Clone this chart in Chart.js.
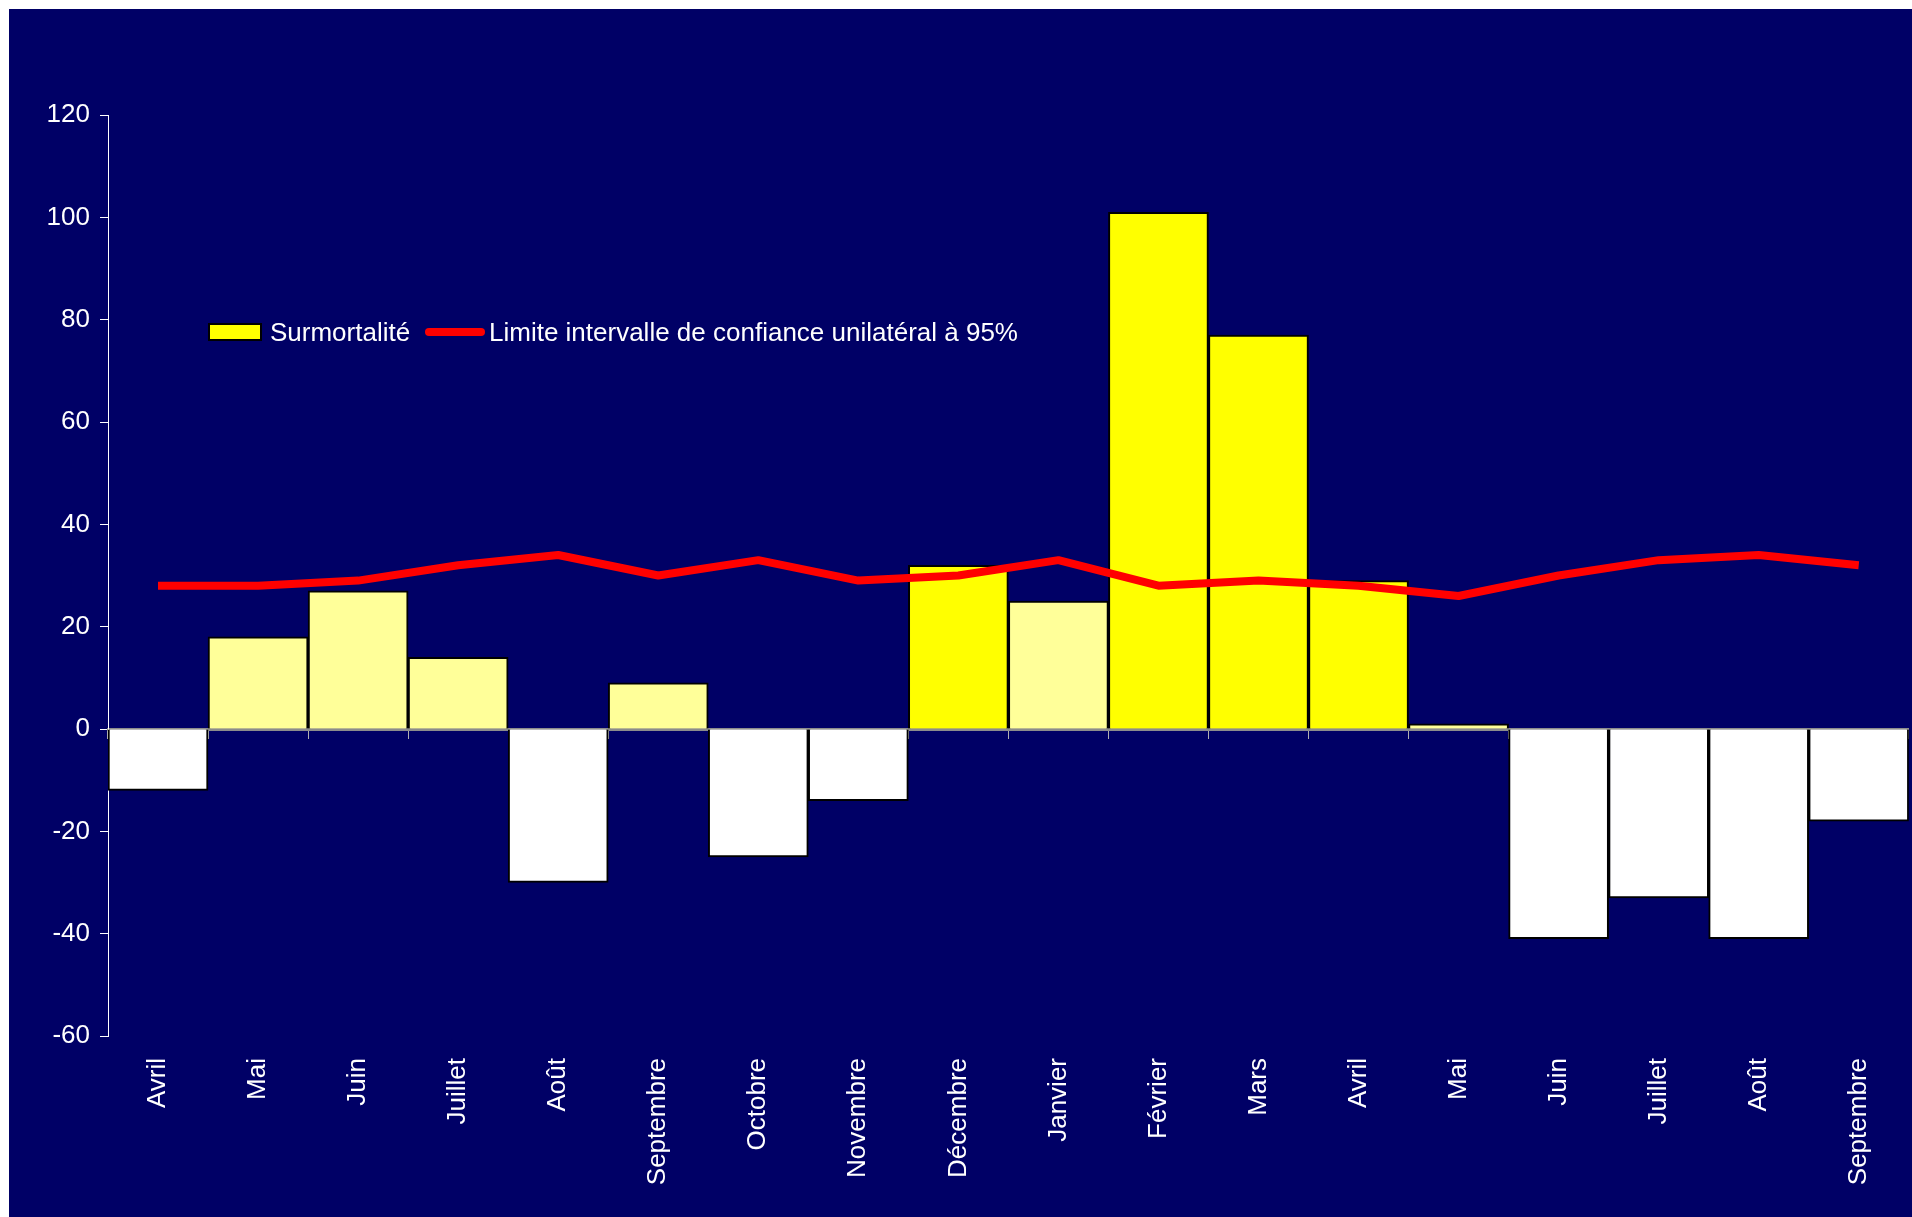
<!DOCTYPE html>
<html lang="fr">
<head>
<meta charset="utf-8">
<title>Surmortalité mensuelle</title>
<script src="https://cdn.jsdelivr.net/npm/chart.js@4.4.1/dist/chart.umd.min.js"></script>
<style>
  html, body { margin: 0; padding: 0; background: #ffffff; }
  #cadre {
    position: absolute;
    left: 9px;
    top: 9px;
    width: 1903px;
    height: 1208px;
    background: #000066;
    font-family: "Liberation Sans", Arial, sans-serif;
  }
  #graphique { position: absolute; left: 0; top: 0; }
  .legende { position: absolute; top: 323px; color: #ffffff; font-size: 26px; line-height: 26px; transform: translateY(-50%); white-space: nowrap; }
  .case { position: absolute; left: 199px; top: 314px; width: 50px; height: 14px; background: #ffff00; border: 2px solid #000000; }
  .trait { position: absolute; left: 416px; top: 319px; width: 60px; height: 8px; border-radius: 4px; background: #ff0000; }
</style>
</head>
<body>
<div id="cadre">
  <canvas id="graphique" width="1903" height="1208"></canvas>
  <div class="case"></div>
  <div class="legende" style="left: 261px;">Surmortalité</div>
  <div class="trait"></div>
  <div class="legende" style="left: 480px;">Limite intervalle de confiance unilatéral à 95%</div>
</div>

<script>
// Mois d'avril à septembre de l'année suivante
const mois = ['Avril', 'Mai', 'Juin', 'Juillet', 'Août', 'Septembre', 'Octobre', 'Novembre',
  'Décembre', 'Janvier', 'Février', 'Mars', 'Avril', 'Mai', 'Juin', 'Juillet', 'Août', 'Septembre']

// Surmortalité observée
const surmortalite = [-12, 18, 27, 14, -30, 9, -25, -14, 32, 25, 101, 77, 29, 1, -41, -33, -41, -18]

// Limite de l'intervalle de confiance unilatéral à 95%
const limite = [28, 28, 29, 32, 34, 30, 33, 29, 30, 33, 28, 29, 28, 26, 30, 33, 34, 32]

const axeMin = -60
const axeMax = 120
const pas = 20

const police = { family: '"Liberation Sans", Arial, sans-serif', size: 26 }

// Jaune vif au-dessus de la limite, jaune pâle sinon, blanc pour les valeurs négatives
function couleurBarre(valeur, seuil) {
  if (valeur < 0) return '#ffffff'
  return valeur > seuil ? '#ffff00' : '#ffff99'
}

const ctx = document.getElementById('graphique').getContext('2d')

new Chart(ctx, {
  type: 'bar',
  data: {
    labels: mois,
    datasets: [
      {
        type: 'line',
        label: 'Limite intervalle de confiance unilatéral à 95%',
        data: limite,
        borderColor: '#ff0000',
        borderWidth: 8,
        borderJoinStyle: 'round',
        pointRadius: 0,
        tension: 0,
        order: 0
      },
      {
        label: 'Surmortalité',
        data: surmortalite,
        backgroundColor: surmortalite.map((v, i) => couleurBarre(v, limite[i])),
        borderColor: '#000000',
        borderWidth: 2,
        barPercentage: 1,
        categoryPercentage: 1,
        order: 1
      }
    ]
  },
  options: {
    responsive: false,
    animation: false,
    layout: { padding: { left: 0, top: 106, right: 2, bottom: 0 } },
    plugins: {
      legend: { display: false },
      tooltip: { enabled: false }
    },
    scales: {
      x: {
        position: 'bottom',
        offset: true,
        grid: { display: false, drawTicks: false },
        border: { display: false },
        ticks: {
          color: '#ffffff',
          font: police,
          maxRotation: 90,
          minRotation: 90,
          padding: 22,
          autoSkip: false
        },
        afterFit: (scale) => { scale.height = 181 }
      },
      // Axe des catégories placé sur la ligne du zéro
      zero: {
        type: 'category',
        axis: 'x',
        position: { y: 0 },
        offset: true,
        grid: { drawOnChartArea: false, offset: true, tickLength: 8, color: '#b0b0b0', lineWidth: 1 },
        border: { color: '#8c8c8c', width: 3 },
        ticks: { display: false }
      },
      y: {
        min: axeMin,
        max: axeMax,
        ticks: {
          stepSize: pas,
          color: '#ffffff',
          font: police,
          padding: 10
        },
        grid: { drawOnChartArea: false, tickLength: 8, color: '#ffffff' },
        border: { color: '#ffffff', width: 1 },
        afterFit: (scale) => { scale.width = 99 }
      }
    }
  }
})
</script>
</body>
</html>
